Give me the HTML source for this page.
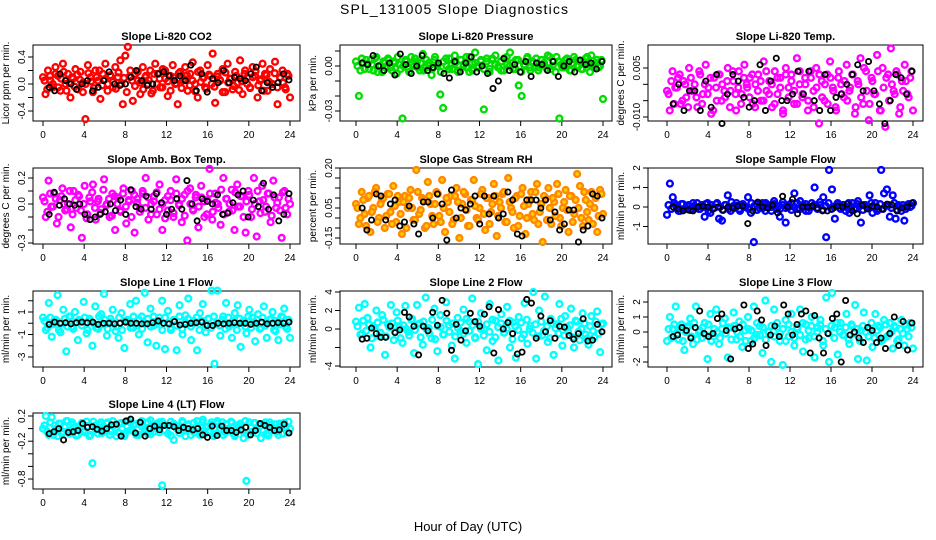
<!DOCTYPE html>
<html><head><meta charset="utf-8"><style>
body{margin:0;background:#fff;}
svg{display:block;font-family:"Liberation Sans",sans-serif;}
</style></head><body>
<svg id="chart" width="936" height="540" viewBox="0 0 936 540" xmlns="http://www.w3.org/2000/svg">
<rect width="936" height="540" fill="#fff"/>
<text x="454" y="14" font-size="14" text-anchor="middle" textLength="228" lengthAdjust="spacing">SPL_131005  Slope Diagnostics</text>
<text x="468" y="531" font-size="13" text-anchor="middle">Hour of Day (UTC)</text>
</svg>
<script>
const xTicks=[0,4,8,12,16,20,24];
const titles=["Slope Li-820 CO2","Slope Li-820 Pressure","Slope Li-820 Temp.","Slope Amb. Box Temp.","Slope Gas Stream RH","Slope Sample Flow","Slope Line 1 Flow","Slope Line 2 Flow","Slope Line 3 Flow","Slope Line 4 (LT) Flow"];
const yLabels=["Licor ppm per min.","kPa per min.","degrees C per min.","degrees C per min.","percent per min.","ml/min per min.","ml/min per min.","ml/min per min.","ml/min per min.","ml/min per min."];
const colors=["#ff0000","#00dd00","#ff00ff","#ff00ff","#ff8800","#0000ff","#00ffff","#00ffff","#00ffff","#00ffff"];
const yTicks=[[-0.4,-0.2,0,0.2,0.4],[-0.03,-0.02,-0.01,0,0.01],[-0.01,-0.005,0,0.005],[-0.3,-0.2,-0.1,0,0.1,0.2],[-0.15,-0.1,-0.05,0,0.05,0.1,0.15,0.2],[-1,0,1,2],[-3,-2,-1,0,1,2],[-4,-2,0,2,4],[-2,-1,0,1,2],[-0.8,-0.6,-0.4,-0.2,0,0.2]];
const yTickLabels=[["-0.4","","0.0","","0.4"],["-0.03","","","0.00",""],["-0.010","","","0.005"],["-0.3","","","0.0","","0.2"],["-0.15","","","0.05","","","","0.20"],["-1","0","1","2"],["-3","","-1","","1",""],["-4","","0","2","4"],["-2","","0","1","2"],["-0.8","","","-0.2","","0.2"]];

const p1Values=[0.1,-0.15,0.2,0.05,-0.05,0.25,0.12,-0.1,0.3,0.0,0.15,-0.2,0.08,0.22,-0.08,0.18,0.02,-0.52,0.28,0.1,-0.12,0.2,0.05,-0.22,0.15,0.3,0.0,0.12,-0.05,0.25,0.1,0.35,-0.3,0.42,0.55,0.2,-0.25,0.15,0.05,-0.15,0.25,0.1,0.0,0.2,-0.1,0.3,0.15,-0.05,0.22,0.08,-0.18,0.12,0.28,0.0,-0.3,0.18,0.05,0.25,-0.1,0.15,0.32,0.0,-0.2,0.2,0.1,-0.05,0.28,0.12,0.45,-0.28,0.15,0.05,0.22,-0.12,0.3,0.08,-0.08,0.18,0.02,0.35,-0.15,0.2,0.1,-0.05,0.25,0.12,-0.2,0.05,0.3,0.15,-0.1,0.22,0.0,0.33,-0.3,0.1,0.2,-0.05,0.15,-0.2];
const p1Core=[0.05,-0.08,0.12,0.0,0.15,-0.05,0.08,0.18,-0.1,0.02,0.1,-0.04,0.14,0.06,-0.12,0.0,0.16,0.04,-0.06,0.1,0.2,-0.02,0.07,-0.1,0.13,0.03,-0.07,0.17,0.0,0.09,-0.12,0.11,0.05,-0.03,0.18,0.02,-0.08,0.12,0.06,-0.14,0.15,0.0,0.08,-0.05,0.2,0.04,-0.1,0.1,0.01,0.16,-0.06,0.07,0.13,-0.02,0.05,-0.11,0.18,0.03,0.09,-0.07,0.14,0.0,-0.04,0.11,0.06,-0.12,0.17,0.02,0.08,-0.03,0.12,-0.09,0.04,0.15,0.0,-0.06,0.1,0.19,-0.02,0.07,-0.1,0.13,0.03,0.0,0.16,-0.05,0.09,0.02,-0.08,0.12];
const p1Black=[-0.05,-0.1,0.15,0.05,0.0,-0.08,0.0,0.05,-0.1,-0.05,0.05,0.18,0.0,-0.02,0.0,0.1,0.2,0.05,-0.02,0.0,0.15,0.18,0.12,0.05,0.12,0.05,0.28,-0.1,0.15,-0.12,0.08,0.02,0.2,0.02,0.1,0.08,0.05,0.15,0.25,-0.1,0.02,-0.05,0.02,0.15,0.06];
const p2Values=[0.003,-0.02,0.005,-0.002,0.001,0.004,-0.003,0.006,0.0,-0.004,0.002,0.005,-0.001,0.003,-0.005,0.001,-0.035,0.004,-0.002,0.006,0.0,0.003,-0.003,0.008,-0.001,0.002,-0.006,0.004,0.0,-0.019,-0.028,0.005,-0.002,0.001,0.007,-0.003,0.004,0.0,0.006,-0.004,0.002,0.009,-0.001,0.003,-0.029,0.005,-0.002,0.004,0.007,0.0,-0.003,0.005,0.001,0.009,-0.002,0.004,-0.013,-0.02,0.0,0.006,-0.003,0.002,0.005,-0.001,0.004,0.0,0.007,-0.002,0.003,0.006,-0.035,-0.001,0.004,0.002,-0.003,0.006,0.0,0.003,-0.002,0.005,0.001,0.007,-0.001,0.004,0.0,-0.022];
const p2Core=[0.0,-0.003,0.002,0.004,-0.002,0.001,0.005,-0.004,0.0,0.003,-0.001,0.004,-0.003,0.002,0.006,-0.002,0.0,0.003,-0.004,0.001,0.005,-0.001,0.002,-0.003,0.004,0.0,-0.002,0.006,0.001,-0.004,0.003,0.0,0.005,-0.002,0.002,-0.004,0.004,0.001,-0.001,0.006,-0.003,0.002,0.0,0.004,-0.002,0.003,-0.004,0.005,0.001,-0.001,0.003,-0.003,0.006,0.0,0.002,-0.002,0.004,-0.004,0.001,0.005,-0.001,0.003,0.0,-0.003,0.004,0.002,-0.002,0.006,0.0,-0.004,0.003,0.001,-0.001,0.005,-0.003,0.002,0.004,0.0,-0.002,0.003,0.006,-0.004,0.001,0.002,-0.001,0.004];
const p2Black=[0.002,0.001,0.007,0.0,-0.003,0.002,-0.006,0.008,0.001,-0.005,0.0,0.007,-0.003,-0.001,0.002,-0.005,-0.008,0.003,-0.004,0.002,0.006,-0.004,0.0,-0.005,-0.015,-0.01,0.005,-0.003,0.001,-0.004,0.003,-0.007,0.002,0.001,-0.003,0.003,-0.007,0.0,0.003,-0.004,0.004,0.001,0.002,-0.002,0.003];
const p3Values=[-0.002,-0.008,0.004,-0.001,0.002,-0.006,0.001,-0.004,0.005,-0.002,0.0,-0.007,0.003,-0.003,0.006,-0.001,-0.009,0.002,-0.005,0.003,0.0,-0.004,0.005,-0.002,0.001,-0.008,0.004,-0.003,0.006,-0.001,0.002,-0.006,0.0,0.003,-0.005,0.007,-0.002,0.001,-0.007,0.004,-0.003,0.002,-0.009,0.005,-0.001,0.003,-0.006,0.008,0.0,-0.004,0.002,-0.008,0.004,-0.002,0.005,-0.012,0.001,-0.005,0.003,0.007,-0.001,-0.007,0.002,0.0,-0.004,0.006,-0.002,0.003,-0.009,0.001,0.008,-0.006,0.004,-0.011,0.002,-0.003,0.009,-0.008,0.005,-0.013,0.003,0.011,-0.002,0.004,-0.009,0.001,0.006,-0.003,0.002,-0.008];
const p3Core=[-0.003,0.001,-0.006,-0.001,0.003,-0.005,0.0,-0.007,0.002,-0.002,-0.004,0.004,-0.006,0.0,-0.003,0.002,-0.008,-0.001,0.003,-0.005,-0.002,0.001,-0.007,0.004,-0.003,-0.001,-0.006,0.002,0.0,-0.004,0.003,-0.007,-0.002,0.001,-0.005,0.004,-0.003,0.0,-0.006,0.002,-0.001,-0.008,0.003,-0.004,0.001,-0.002,-0.006,0.004,-0.003,0.0,-0.005,0.002,-0.007,-0.001,0.003,-0.004,0.0,-0.006,0.002,-0.002,-0.008,0.004,-0.003,0.001,-0.005,-0.001,0.003,-0.007,0.0,-0.004,0.005,-0.002,-0.006,0.001,-0.003,0.004,-0.008,-0.001,0.002,-0.005,0.0,-0.003,0.003,-0.007,-0.002,0.001,-0.004,0.004];
const p3Black=[-0.006,0.0,-0.008,-0.002,-0.002,-0.008,0.001,-0.007,0.003,-0.012,-0.003,0.003,0.001,-0.004,-0.007,-0.005,0.006,-0.008,0.001,0.008,-0.005,-0.005,-0.003,0.004,-0.003,0.004,-0.005,-0.008,0.003,-0.008,-0.004,-0.003,0.0,0.003,0.006,-0.002,0.007,-0.002,-0.006,-0.012,-0.005,0.003,0.002,-0.003,0.004];
const p4Values=[0.05,-0.1,0.18,-0.02,0.08,-0.15,0.03,0.12,-0.05,0.0,-0.18,0.1,-0.03,0.06,-0.26,0.14,-0.08,0.02,0.15,-0.12,0.04,-0.04,0.19,0.0,-0.1,0.08,-0.2,0.05,-0.06,0.12,-0.15,0.02,0.1,-0.22,0.04,-0.03,0.08,0.2,-0.12,0.0,0.06,-0.08,0.15,-0.2,0.03,-0.05,0.1,-0.1,0.19,0.0,-0.14,0.07,-0.28,0.12,-0.04,0.05,-0.18,0.14,0.02,-0.08,0.27,-0.12,0.08,0.0,-0.16,0.2,0.04,-0.06,0.11,-0.2,0.15,-0.02,0.06,-0.22,0.1,-0.1,0.2,-0.25,0.02,0.14,-0.06,0.08,-0.14,0.18,-0.03,0.05,-0.26,0.1,-0.08,0.0];
const p4Core=[0.02,-0.06,0.08,-0.02,0.04,-0.1,0.06,0.0,-0.04,0.1,-0.08,0.03,0.07,-0.05,0.0,-0.11,0.05,0.09,-0.03,0.02,-0.07,0.11,-0.01,0.04,-0.09,0.06,0.0,-0.05,0.08,-0.02,0.03,-0.1,0.07,0.01,-0.06,0.1,-0.03,0.05,-0.08,0.02,0.09,-0.04,0.0,-0.11,0.06,0.03,-0.07,0.08,-0.01,0.04,-0.09,0.1,0.0,-0.05,0.07,-0.02,0.05,-0.1,0.03,0.08,-0.06,0.01,-0.03,0.11,-0.08,0.04,0.0,-0.05,0.09,-0.02,0.06,-0.1,0.02,0.07,-0.04,0.0,0.1,-0.07,0.03,-0.02,0.08,-0.09,0.05,0.01,-0.05,0.09,-0.03,0.04];
const p4Black=[-0.08,0.09,-0.01,0.04,0.0,-0.01,0.0,-0.08,-0.12,-0.1,-0.08,-0.06,0.0,-0.05,0.03,-0.08,0.11,-0.02,-0.04,0.06,-0.04,0.08,0.01,-0.08,-0.04,0.04,-0.04,0.18,0.0,-0.13,0.04,0.02,0.0,0.07,-0.08,-0.07,0.01,0.07,0.1,-0.1,0.03,-0.02,0.16,-0.04,0.07,-0.13,-0.08,0.08];
const p5Values=[0.02,-0.08,0.08,-0.03,0.05,-0.12,0.0,0.1,-0.05,0.04,-0.1,0.07,-0.02,0.11,-0.07,0.03,-0.13,0.06,0.0,0.09,-0.06,0.19,-0.03,0.05,-0.1,0.13,0.02,-0.08,0.08,-0.04,0.14,-0.12,0.03,0.06,-0.06,0.1,-0.15,0.02,0.07,-0.09,0.04,0.14,-0.05,0.0,0.09,-0.11,0.05,-0.02,0.12,-0.14,0.03,0.07,-0.07,0.15,0.0,-0.1,0.06,-0.04,0.1,-0.13,0.02,0.08,-0.06,0.12,-0.02,-0.17,0.05,0.1,-0.08,0.03,0.12,-0.05,0.0,0.09,-0.12,0.06,-0.03,0.17,0.11,-0.09,0.04,-0.06,0.08,0.0,-0.12,0.09,-0.03];
const p5Core=[0.0,-0.05,0.04,-0.09,0.06,-0.02,0.08,-0.07,0.02,0.05,-0.04,0.07,-0.08,0.01,0.06,-0.03,0.03,-0.1,0.05,0.0,-0.06,0.08,-0.01,0.04,-0.09,0.06,-0.04,0.02,0.07,-0.07,0.0,0.05,-0.02,-0.08,0.06,0.03,-0.05,0.08,-0.01,-0.09,0.04,0.01,-0.06,0.07,-0.03,0.05,-0.08,0.02,0.06,-0.04,0.0,0.08,-0.07,0.03,-0.02,0.05,-0.09,0.07,0.01,-0.05,0.04,-0.03,0.08,-0.08,0.02,0.06,-0.06,0.0,0.05,-0.04,0.07,-0.09,0.03,-0.01,0.06,-0.07,0.04,0.0,-0.05,0.08,-0.02,0.02,-0.08,0.05,-0.04,0.07];
const p5Black=[0.0,-0.11,-0.06,0.07,0.06,-0.06,0.02,0.04,-0.09,-0.07,0.01,-0.08,-0.13,0.03,0.03,-0.05,0.07,0.02,-0.16,0.09,-0.05,0.0,-0.01,0.02,0.06,-0.08,0.06,-0.03,0.06,-0.05,-0.03,0.08,0.04,-0.13,-0.14,0.04,0.04,0.04,0.0,0.04,-0.06,-0.02,-0.11,-0.08,-0.01,-0.01,-0.17,-0.11,-0.09,0.07,0.06,-0.05];
const p6Values=[-0.4,1.2,0.5,0.1,-0.2,0.15,-0.1,0.05,-0.15,0.2,0.0,-0.1,0.1,-0.5,0.2,-0.3,-0.05,0.15,-0.6,-0.7,0.1,0.6,-0.2,0.05,0.2,-0.1,0.1,0.0,0.5,-0.3,-1.8,0.15,-0.05,0.2,-0.2,0.1,0.0,0.3,-0.1,-0.5,0.1,-0.8,0.0,0.2,0.7,-0.1,0.3,0.1,-0.2,0.0,0.2,1.0,-0.1,0.1,0.5,-1.55,1.9,0.9,-0.6,0.2,-0.1,0.1,0.0,-0.3,0.2,-0.1,0.3,-0.8,0.1,0.0,0.6,-0.3,0.2,-0.1,1.9,0.7,0.9,-0.5,0.6,-0.6,0.1,-0.2,-0.7,0.1,0.0,0.2];
const p6Core=[0.1,-0.1,0.2,0.0,-0.2,0.15,-0.05,0.1,-0.15,0.05,0.2,-0.1,0.0,0.15,-0.2,0.1,-0.05,0.2,0.0,-0.15,0.1,-0.1,0.25,-0.05,0.05,-0.2,0.15,0.0,-0.1,0.2,0.05,-0.15,0.1,-0.05,0.2,0.0,-0.2,0.15,0.05,-0.1,0.25,-0.05,0.1,-0.15,0.0,0.2,-0.1,0.05,0.15,-0.2,0.0,0.1,-0.05,0.25,-0.15,0.05,0.2,-0.1,0.0,0.15,-0.05,0.1,-0.2,0.2,0.0,-0.1,0.15,0.05,-0.15,0.1,-0.05,0.2,0.0,-0.2,0.15,-0.1,0.05,0.1,-0.05,0.2,-0.15,0.0,0.1,-0.1,0.15,0.05];
const p6Black=[0.0,-0.1,-0.2,-0.15,-0.2,0.0,0.05,0.0,-0.1,0.0,-0.15,0.0,-0.05,0.05,0.05,-0.85,-0.2,0.25,0.0,-0.05,0.1,-0.3,0.55,0.0,0.4,-0.35,0.0,0.0,0.05,-0.05,-0.2,-0.2,-0.1,0.05,0.0,0.15,-0.2,-0.35,0.1,-0.1,0.05,0.0,-0.1,0.15,0.1,-0.2,-0.05,0.0,0.2];
const p7Values=[0.5,-0.6,1.8,-1.2,0.3,2.5,-0.8,1.2,-2.5,0.6,-0.3,1.0,-1.5,0.2,1.9,-0.9,0.4,-2.0,1.5,-0.5,0.8,2.6,-1.1,0.1,1.2,-0.7,-1.3,0.9,-2.2,0.3,1.7,-0.4,2.0,-1.0,0.6,2.7,-1.7,1.3,-0.2,-2.0,0.5,2.0,-2.3,1.1,-0.6,0.3,-2.4,1.6,-1.0,0.7,2.2,-1.5,0.2,-2.4,0.9,1.7,-0.8,0.4,2.9,-3.6,2.9,-1.1,0.6,1.8,-0.3,-1.3,0.9,1.6,-2.1,0.2,-0.9,1.2,0.5,-1.6,0.8,-0.4,1.5,-1.3,0.3,1.0,-0.7,-1.5,0.6,1.3,-0.5,-1.3];
const p7Core=[0.2,-0.4,0.5,-0.1,0.3,-0.6,0.0,0.4,-0.3,0.6,-0.5,0.1,0.3,-0.2,0.5,-0.6,0.2,0.0,-0.4,0.6,-0.1,0.3,-0.5,0.4,0.0,-0.3,0.5,-0.6,0.2,0.1,-0.4,0.6,-0.2,0.3,-0.5,0.0,0.4,-0.3,0.6,-0.1,0.2,-0.6,0.5,0.0,-0.4,0.3,-0.2,0.6,-0.5,0.1,0.4,-0.3,0.0,0.5,-0.6,0.2,-0.1,0.4,-0.4,0.6,0.0,-0.2,0.3,-0.5,0.5,-0.1,0.2,-0.6,0.4,0.0,-0.3,0.6,-0.4,0.1,0.3,-0.5,0.5,-0.2,0.0,0.4,-0.6,0.2,-0.1,0.5,-0.3,0.3];
const p7Black=[-0.1,0.1,0.0,0.05,-0.05,0.05,0.1,0.05,0.1,-0.1,0.0,0.0,-0.05,0.0,0.1,0.0,0.0,-0.05,-0.05,0.05,0.2,0.0,-0.05,0.15,-0.15,-0.1,0.0,0.05,0.1,-0.2,-0.2,0.0,-0.05,0.0,0.05,0.0,0.0,-0.1,0.0,0.1,-0.05,0.0,0.05,0.0,0.1];
const p8Values=[0.8,2.3,-0.5,2.7,1.2,-2.0,0.3,2.0,-0.8,1.5,-2.8,0.5,2.6,-1.2,1.8,0.2,-1.5,2.5,-0.3,1.0,-2.6,2.6,0.6,-1.7,3.4,0.1,-1.0,2.2,-2.4,1.5,-0.6,2.9,0.4,-1.8,-3.2,1.2,-0.2,2.1,-1.5,0.8,3.3,-0.9,-3.8,1.7,0.0,-2.3,2.7,-1.3,0.9,-3.4,1.6,-0.4,2.4,-2.0,0.7,-3.1,1.3,-1.0,2.8,-1.6,0.3,4.0,-3.2,2.0,-0.7,3.5,-1.4,1.1,-2.8,0.5,2.7,-1.8,1.4,-0.3,2.2,-2.0,0.8,-1.2,1.7,-0.6,-1.7,1.4,-0.9,1.9,-2.5,0.6];
const p8Core=[0.3,-0.6,0.9,-0.2,0.5,-1.0,0.1,0.7,-0.4,1.0,-0.8,0.2,0.6,-0.3,0.9,-1.0,0.4,0.0,-0.7,1.1,-0.1,0.5,-0.9,0.8,0.0,-0.5,1.0,-1.1,0.3,0.2,-0.6,0.9,-0.3,0.6,-0.8,0.1,0.7,-0.5,1.1,-0.2,0.4,-1.0,0.8,0.0,-0.7,0.5,-0.3,1.0,-0.9,0.2,0.6,-0.4,0.0,0.9,-1.1,0.3,-0.1,0.7,-0.6,1.0,0.0,-0.4,0.5,-0.8,0.8,-0.2,0.3,-1.0,0.6,0.1,-0.5,1.1,-0.7,0.2,0.4,-0.9,0.9,-0.3,0.0,0.6,-1.0,0.3,-0.2,0.8,-0.5,0.5];
const p8Black=[-1.1,-1.0,0.1,-0.5,-0.9,-0.9,0.3,-0.4,-0.1,1.8,1.3,0.3,-2.8,0.3,-0.2,1.8,0.4,3.1,1.7,-2.3,0.5,-1.2,-0.2,1.7,0.8,0.3,1.6,2.4,-2.6,2.1,0.0,0.7,-0.5,-2.7,-2.5,3.2,2.8,-1.0,1.4,-0.3,0.9,-1.0,0.3,0.2,-0.7,-1.1,-0.5,1.1,-1.3,-1.2,0.5,-0.3];
const p9Values=[-0.6,1.0,0.2,1.7,-0.5,0.5,-1.2,0.3,0.9,-0.8,1.7,0.0,-0.4,0.6,-1.8,1.2,-0.3,1.5,-0.8,0.2,0.9,-1.7,0.3,1.3,-0.5,0.7,-1.0,0.1,1.0,-0.6,1.7,-0.2,0.4,-1.4,2.1,0.0,-2.0,1.5,0.3,-0.6,-2.2,0.8,-0.3,1.2,-0.9,0.2,1.5,-1.3,0.5,-0.4,1.0,-1.7,0.3,0.8,-0.9,2.3,-2.0,2.6,0.3,-1.5,0.6,-0.2,1.2,-0.8,0.4,1.8,-1.8,0.1,1.3,-1.9,0.2,-1.0,1.2,0.4,-0.6,0.8,-0.3,0.6,-1.1,0.3,-0.5,0.8,-0.9,0.2,0.6,-1.1];
const p9Core=[0.2,-0.4,0.5,-0.1,0.3,-0.6,0.0,0.4,-0.3,0.6,-0.5,0.1,0.3,-0.2,0.5,-0.6,0.2,0.0,-0.4,0.6,-0.1,0.3,-0.5,0.4,0.0,-0.3,0.5,-0.6,0.2,0.1,-0.4,0.6,-0.2,0.3,-0.5,0.0,0.4,-0.3,0.6,-0.1,0.2,-0.6,0.5,0.0,-0.4,0.3,-0.2,0.6,-0.5,0.1,0.4,-0.3,0.0,0.5,-0.6,0.2,-0.1,0.4,-0.4,0.6,0.0,-0.2,0.3,-0.5,0.5,-0.1,0.2,-0.6,0.4,0.0,-0.3,0.6,-0.4,0.1,0.3,-0.5,0.5,-0.2,0.0,0.4,-0.6,0.2,-0.1,0.5,-0.3,0.3];
const p9Black=[-0.3,-0.2,0.3,0.1,-0.4,0.3,1.4,-0.1,-0.3,-0.1,0.9,1.2,0.1,-1.8,0.2,0.3,1.8,-1.1,-0.8,1.4,0.8,-0.9,-0.2,0.4,-0.3,1.8,1.2,-0.2,0.5,1.2,1.4,-1.4,1.1,-0.4,-1.4,-0.1,0.9,1.2,-2.0,2.1,-0.2,0.0,-0.4,-0.7,0.3,0.1,-0.7,-0.4,-1.1,-0.1,1.0,-0.9,0.7,-1.2,0.6];
const p10Values=[0.0,0.2,-0.1,0.18,0.05,-0.12,0.08,-0.05,0.12,-0.08,0.1,0.02,-0.1,0.06,-0.03,0.11,-0.12,-0.55,0.05,-0.08,0.1,-0.02,0.08,-0.1,0.12,0.0,-0.06,0.09,-0.12,0.04,0.1,-0.04,0.07,-0.1,0.12,0.0,-0.08,0.13,-0.05,0.02,0.1,-0.9,0.06,-0.08,0.11,-0.18,0.04,-0.02,0.1,-0.12,0.07,0.0,-0.06,0.12,-0.1,0.14,0.03,-0.05,0.1,-0.08,0.12,0.0,-0.1,0.07,-0.03,0.1,-0.12,0.05,0.08,-0.15,-0.83,0.1,-0.05,0.09,0.0,-0.15,0.06,-0.08,0.1,-0.03,0.07,-0.1,0.04,0.09,-0.06,0.0];
const p10Core=[0.05,-0.05,0.1,-0.1,0.0,0.08,-0.08,0.03,0.12,-0.03,0.06,-0.11,0.01,0.09,-0.06,0.04,-0.1,0.11,-0.01,0.07,-0.07,0.02,0.1,-0.04,0.05,-0.12,0.08,0.0,-0.08,0.12,-0.02,0.06,-0.1,0.09,0.03,-0.05,0.1,-0.09,0.01,0.07,-0.06,0.11,-0.03,0.04,-0.11,0.08,0.0,-0.07,0.12,-0.01,0.05,-0.1,0.09,0.02,-0.05,0.1,-0.08,0.03,0.06,-0.12,0.08,-0.02,0.1,-0.06,0.0,0.11,-0.09,0.04,0.07,-0.04,0.12,-0.1,0.02,0.09,-0.07,0.05,-0.02,0.1,-0.11,0.06,0.0,-0.05,0.08,-0.08,0.03,0.11];
const p10Black=[-0.08,-0.05,0.0,-0.18,-0.06,-0.05,-0.03,0.08,0.02,0.03,-0.01,-0.04,0.0,0.06,0.07,-0.12,0.12,0.15,-0.07,0.1,-0.12,0.0,0.04,-0.02,0.05,0.05,0.03,-0.03,0.02,0.0,-0.02,0.0,-0.1,-0.14,0.04,-0.11,0.04,-0.03,-0.03,-0.06,-0.02,0.02,-0.1,-0.03,0.08,0.05,0.02,-0.03,-0.02,0.07,-0.07];

const colorSeries=[p1Values,p2Values,p3Values,p4Values,p5Values,p6Values,p7Values,p8Values,p9Values,p10Values];
const coreSeries=[p1Core,p2Core,p3Core,p4Core,p5Core,p6Core,p7Core,p8Core,p9Core,p10Core];
const blackSeries=[p1Black,p2Black,p3Black,p4Black,p5Black,p6Black,p7Black,p8Black,p9Black,p10Black];

const colBox=[[33,300,43,290],[340,612,356,603],[648,923,667,913]];
const rowBox=[[45,121],[168,244],[291,367],[413,489]];
const yMap=[[0,84,0.4,57],[0,66,-0.03,111],[0.005,68,-0.01,117],[0,204,0.2,178],[0.05,198,-0.15,238],[0,207,2,168],[1,312,-3,357],[0,329,4,292],[0,332,2,302],[0.2,416,-0.8,479]];

const NS="http://www.w3.org/2000/svg";
const svg=document.getElementById('chart');
function mk(tag,attrs,parent){const e=document.createElementNS(NS,tag);for(const k in attrs)e.setAttribute(k,attrs[k]);(parent||svg).appendChild(e);return e;}

for(let p=0;p<10;p++){
  const c=colBox[p%3], r=rowBox[Math.floor(p/3)], m=yMap[p];
  const g=mk('g',{});
  
  
  const xs=v=>c[2]+(v/24)*(c[3]-c[2]);
  const ys=v=>m[1]+(v-m[0])*(m[3]-m[1])/(m[2]-m[0]);
  const t=mk('text',{x:(c[0]+c[1])/2,y:r[0]-5,'font-size':11,'font-weight':'bold','text-anchor':'middle'},g);
  t.textContent=titles[p];
  
  
  const box=mk('rect',{x:c[0],y:r[0],width:c[1]-c[0],height:r[1]-r[0],fill:'none',stroke:'#000','stroke-width':1},g);
  
  
  xTicks.forEach(v=>{
    const x=xs(v);
    mk('line',{x1:x,x2:x,y1:r[1],y2:r[1]+5,stroke:'#000'},g);
    const tl=mk('text',{x:x,y:r[1]+17,'font-size':10,'text-anchor':'middle'},g);
    tl.textContent=v;
    
    
  });
  yTicks[p].forEach((v,i)=>{
    const y=ys(v);
    mk('line',{x1:c[0]-5,x2:c[0],y1:y,y2:y,stroke:'#000'},g);
    const lab=yTickLabels[p][i];
    if(lab){
      const tl=mk('text',{x:0,y:0,'font-size':10,'text-anchor':'middle',transform:`translate(${c[0]-8},${y}) rotate(-90)`},g);
      tl.textContent=lab;
      
      
    }
  });
  const yl=mk('text',{x:0,y:0,'font-size':10,'text-anchor':'middle',transform:`translate(${c[0]-24},${(r[0]+r[1])/2}) rotate(-90)`},g);
  yl.textContent=yLabels[p];
  
  
  const fill=p==4?'#ffd000':'none';
  const cs=colorSeries[p];
  cs.forEach((v,i)=>{
    const pt=mk('circle',{cx:xs(i*24/(cs.length-1)),cy:ys(v),r:2.9,fill:fill,stroke:colors[p],'stroke-width':2.4},g);
    
    
  });
  const co=coreSeries[p];
  co.forEach((v,i)=>{
    const pt=mk('circle',{cx:xs(0.15+i*23.7/(co.length-1)),cy:ys(v),r:2.9,fill:fill,stroke:colors[p],'stroke-width':2.4},g);
    
    
  });
  const bs=blackSeries[p];
  bs.forEach((v,i)=>{
    const pt=mk('circle',{cx:xs(0.6+i*23.3/(bs.length-1)),cy:ys(v),r:2.6,fill:'none',stroke:'#000','stroke-width':1.8},g);
    
    
  });
}
</script>
</body></html>
